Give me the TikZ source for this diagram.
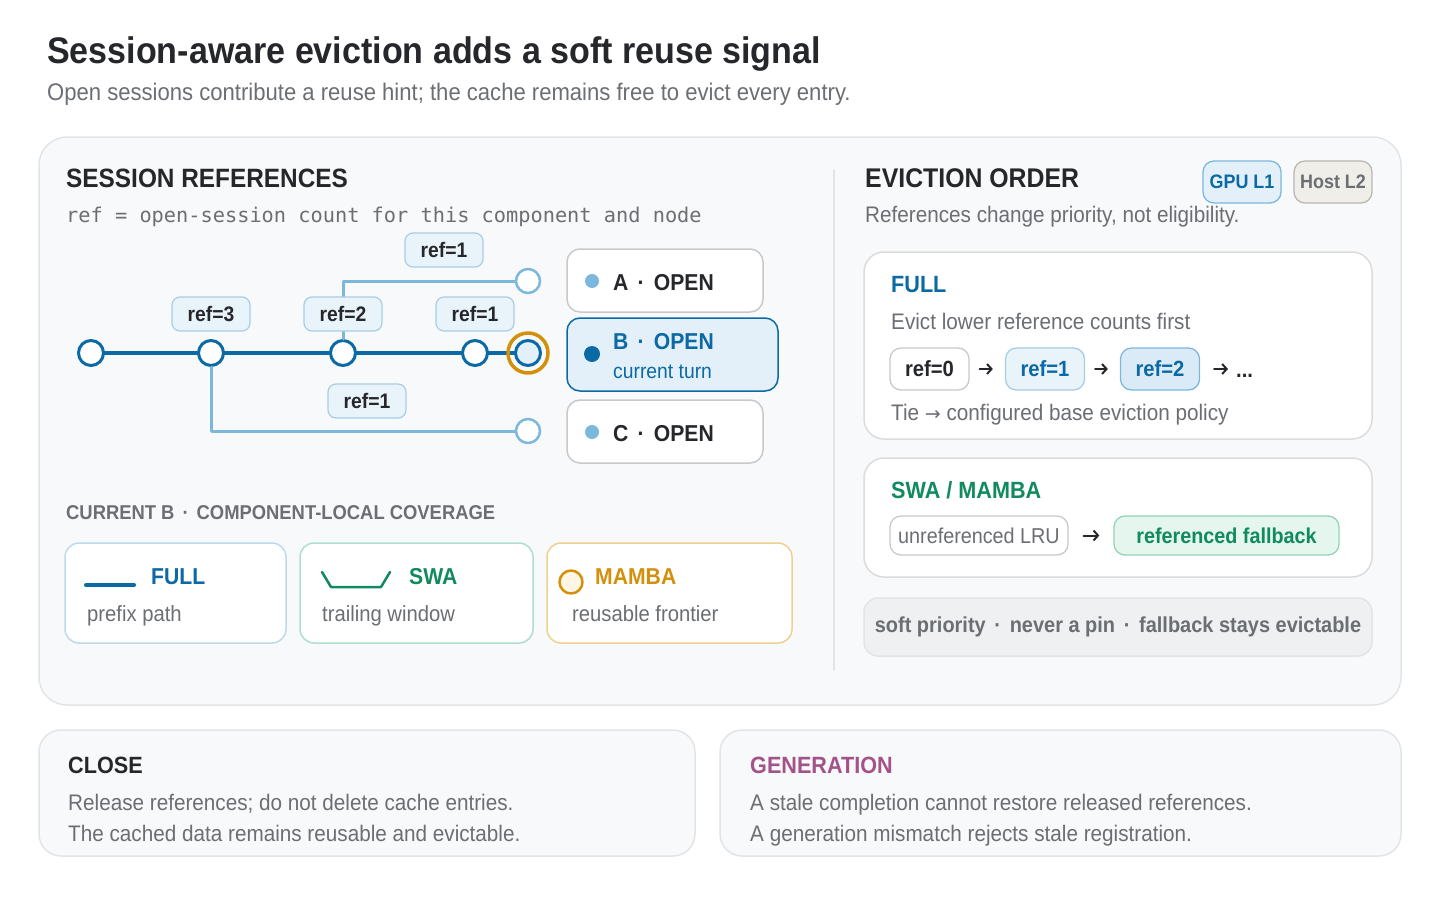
\documentclass[tikz,border=0pt]{standalone}
\usepackage{fontspec}
\setmainfont[FakeStretch=0.92]{Liberation Sans}
\newfontfamily\codefont{DejaVu Sans Mono}
\newfontfamily\arrowfont{DejaVu Sans}
\usetikzlibrary{arrows.meta}

\definecolor{ink}{HTML}{25272A}
\definecolor{mute}{HTML}{6B6E72}
\definecolor{deep}{HTML}{0B69A3}
\definecolor{sky}{HTML}{7CB8DC}
\definecolor{tagfill}{HTML}{E9F3FA}
\definecolor{tagline}{HTML}{A7CDE6}
\definecolor{tagdeep}{HTML}{DAEAF6}
\definecolor{curfill}{HTML}{E3F0FA}
\definecolor{amber}{HTML}{D4900C}
\definecolor{amberfill}{HTML}{FFF7E3}
\definecolor{amberline}{HTML}{EFD08E}
\definecolor{mint}{HTML}{108A5E}
\definecolor{mintfill}{HTML}{E4F6EE}
\definecolor{mintline}{HTML}{93D3B7}
\definecolor{swaline}{HTML}{AEDFCD}
\definecolor{fullline}{HTML}{BCDAEF}
\definecolor{plum}{HTML}{A3528A}
\definecolor{panelfill}{HTML}{F8F9FA}
\definecolor{panelline}{HTML}{E2E4E7}
\definecolor{stripfill}{HTML}{EEF0F2}
\definecolor{edge}{HTML}{C9C9C9}
\definecolor{cardline}{HTML}{DCDCDC}
\definecolor{hostfill}{HTML}{EFEEE9}
\definecolor{hostline}{HTML}{B9B7B0}

\newcommand\setsz[1]{\fontsize{#1}{#1}\selectfont}
\newcommand\middot{\hspace{0.4em}·\hspace{0.4em}}

\tikzset{
  lbl/.style={inner sep=0pt,anchor=base west,text=ink},
  panel/.style={draw=panelline,fill=panelfill,line width=1.5pt,rounded corners=28pt},
  card/.style={draw=cardline,fill=white,line width=1.5pt,rounded corners=20pt},
  note/.style={draw=panelline,fill=panelfill,line width=1.5pt,rounded corners=22pt},
  knot/.style={circle,draw=deep,line width=3pt,fill=white,minimum size=25pt,inner sep=0pt},
  leaf/.style={circle,draw=sky,line width=2.5pt,fill=white,minimum size=24pt,inner sep=0pt},
  ring/.style={circle,draw=amber,line width=3.5pt,minimum size=40pt,inner sep=0pt},
  trunk/.style={draw=deep,line width=3.5pt},
  branch/.style={draw=sky,line width=3pt},
  tag/.style={draw=tagline,fill=tagfill,rounded corners=8pt,line width=1.2pt,minimum width=78pt,minimum height=34pt,inner sep=0pt,font=\setsz{21}\bfseries,text=ink},
  sess/.style={draw=edge,fill=white,rounded corners=13pt,line width=1.5pt,minimum width=196pt,minimum height=63pt},
  bullet/.style={circle,fill=sky,minimum size=14pt,inner sep=0pt},
  chip/.style={draw=edge,fill=white,rounded corners=11pt,line width=1.3pt,minimum width=79pt,minimum height=42pt,inner sep=0pt,font=\setsz{22}\bfseries,text=ink},
  badge/.style={draw=sky,fill=curfill,rounded corners=11pt,line width=1.3pt,minimum width=78pt,minimum height=42pt,inner sep=0pt,font=\setsz{19.5}\bfseries,text=deep},
  flow/.style={draw=ink,line width=2pt,-{Straight Barb[length=4.5pt,width=10pt]}},
}

\begin{document}
\begin{tikzpicture}[line cap=round,line join=round,x=1pt,y=-1pt]
\useasboundingbox (0,0) rectangle (1440,900);
% header
\node[lbl,font=\setsz{37}\bfseries] (title) at (47,63) {Session-aware eviction adds a soft reuse signal};
\node[lbl,font=\setsz{24},text=mute] (subtitle) at (47,100) {Open sessions contribute a reuse hint; the cache remains free to evict every entry.};

% main panel
\draw[panel] (39,137) rectangle (1401,705);
\draw[draw=panelline,line width=1.5pt] (834,170) -- (834,670);

% session references
\node[lbl,font=\setsz{26.5}\bfseries] (refhead) at (66,187) {SESSION REFERENCES};
\node[lbl,font=\codefont\setsz{20.3},text=mute] (refnote) at (66,222) {ref = open-session count for this component and node};

\node[knot] (n0) at (91,353) {};
\node[knot] (n1) at (211,353) {};
\node[knot] (n2) at (343,353) {};
\node[knot] (n3) at (475,353) {};
\node[knot,fill=curfill] (n4) at (528,353) {};
\node[leaf] (la) at (528,281) {};
\node[leaf] (lc) at (528,431) {};
\draw[trunk] (n0) -- (n1) -- (n2) -- (n3) -- (n4);
\draw[branch] (n2) |- (la);
\draw[branch] (n1) |- (lc);
\node[ring] (cur) at (n4) {};

\node[tag] (t3) at (211,314) {ref=3};
\node[tag] (t2) at (343,314) {ref=2};
\node[tag] (t1) at (475,314) {ref=1};
\node[tag] (ta) at (444,250) {ref=1};
\node[tag] (tc) at (367,401) {ref=1};

% sessions
\node[sess] (sa) at (665,280.5) {};
\node[bullet] (ba) at (592,281) {};
\node[lbl,font=\setsz{23}\bfseries] (na) at (613,290) {A\middot OPEN};
\node[sess,draw=deep,fill=curfill,minimum width=211pt,minimum height=73pt] (sb) at (672.5,354.5) {};
\node[bullet,fill=deep,minimum size=16pt] (bb) at (592,354) {};
\node[lbl,font=\setsz{23}\bfseries,text=deep] (nb) at (613,349) {B\middot OPEN};
\node[lbl,font=\setsz{21},text=deep] (nbt) at (613,378) {current turn};
\node[sess] (sc) at (665,431.5) {};
\node[bullet] (bc) at (592,432) {};
\node[lbl,font=\setsz{23}\bfseries] (nc) at (613,441) {C\middot OPEN};

% coverage
\node[lbl,font=\setsz{20}\bfseries,text=mute] (covhead) at (66,519) {CURRENT B\middot COMPONENT-LOCAL COVERAGE};
\draw[card,draw=fullline,rounded corners=14pt] (65,543) rectangle (286,643);
\draw[deep,line width=4pt] (86,585) -- (134,585);
\node[lbl,font=\setsz{23}\bfseries,text=deep] (cfull) at (151,584) {FULL};
\node[lbl,font=\setsz{22},text=mute] (cfullt) at (87,621) {prefix path};
\draw[card,draw=swaline,rounded corners=14pt] (300,543) rectangle (533,643);
\draw[mint,line width=2.5pt] (322,572) .. controls (326,580) .. (331,587) -- (381,587) .. controls (386,580) .. (390,572);
\node[lbl,font=\setsz{23}\bfseries,text=mint] (cswa) at (409,584) {SWA};
\node[lbl,font=\setsz{22},text=mute] (cswat) at (322,621) {trailing window};
\draw[card,draw=amberline,rounded corners=14pt] (547,543) rectangle (792,643);
\draw[amber,fill=amberfill,line width=2.5pt] (571,582) circle[radius=11.5pt];
\node[lbl,font=\setsz{23}\bfseries,text=amber] (cmamba) at (595,584) {MAMBA};
\node[lbl,font=\setsz{22},text=mute] (cmambat) at (572,621) {reusable frontier};

% eviction order
\node[lbl,font=\setsz{27}\bfseries] (evhead) at (865,187) {EVICTION ORDER};
\node[badge] (gpu) at (1242,182) {GPU L1};
\node[badge,draw=hostline,fill=hostfill,text=mute] (host) at (1333,182) {Host L2};
\node[lbl,font=\setsz{22.5},text=mute] (evnote) at (865,222) {References change priority, not eligibility.};

\draw[card] (864,252) rectangle (1372,439);
\node[lbl,font=\setsz{23.5}\bfseries,text=deep] (efull) at (891,292) {FULL};
\node[lbl,font=\setsz{22.5},text=mute] (efullt) at (891,329) {Evict lower reference counts first};
\node[chip] (r0) at (929.5,369) {ref=0};
\node[chip,draw=tagline,fill=tagfill,text=deep] (r1) at (1045,369) {ref=1};
\node[chip,draw=sky,fill=tagdeep,text=deep] (r2) at (1160,369) {ref=2};
\node[lbl,font=\setsz{22}\bfseries] (more) at (1236,377) {...};
\draw[flow,shorten <=10pt,shorten >=12pt] (r0.east) -- (r1.west);
\draw[flow,shorten <=10pt,shorten >=12pt] (r1.east) -- (r2.west);
\draw[flow,shorten <=14pt,shorten >=8pt] (r2.east) -- (r2.east -| more.west);
\node[lbl,font=\setsz{22.5},text=mute] (tie) at (891,420) {Tie {\arrowfont\setsz{19}→} configured base eviction policy};

\draw[card] (864,458) rectangle (1372,577);
\node[lbl,font=\setsz{23.5}\bfseries,text=mint] (eswa) at (891,498) {SWA / MAMBA};
\node[chip,minimum width=178pt,minimum height=39pt,font=\setsz{21.5},text=mute] (lru) at (979,535.5) {unreferenced LRU};
\node[chip,draw=mintline,fill=mintfill,text=mint,minimum width=225pt,minimum height=39pt,font=\setsz{21.5}\bfseries] (fb) at (1226.5,535.5) {referenced fallback};
\draw[flow,shorten <=15pt,shorten >=14pt] (lru.east) -- (fb.west);

\draw[draw=panelline,fill=stripfill,line width=1.5pt,rounded corners=14pt] (864,598) rectangle (1372,656);
\node[font=\setsz{21.7}\bfseries,text=mute] (soft) at (1118,627) {soft priority\middot never a pin\middot fallback stays evictable};

% close / generation
\draw[note] (39,730) rectangle (695,856);
\node[lbl,font=\setsz{23.5}\bfseries] (close) at (68,773) {CLOSE};
\node[lbl,font=\setsz{22.5},text=mute] (closea) at (68,810) {Release references; do not delete cache entries.};
\node[lbl,font=\setsz{22.5},text=mute] (closeb) at (68,841) {The cached data remains reusable and evictable.};
\draw[note] (720,730) rectangle (1401,856);
\node[lbl,font=\setsz{23.5}\bfseries,text=plum] (gen) at (750,773) {GENERATION};
\node[lbl,font=\setsz{22.5},text=mute] (gena) at (750,810) {A stale completion cannot restore released references.};
\node[lbl,font=\setsz{22.5},text=mute] (genb) at (750,841) {A generation mismatch rejects stale registration.};
\end{tikzpicture}
\end{document}
